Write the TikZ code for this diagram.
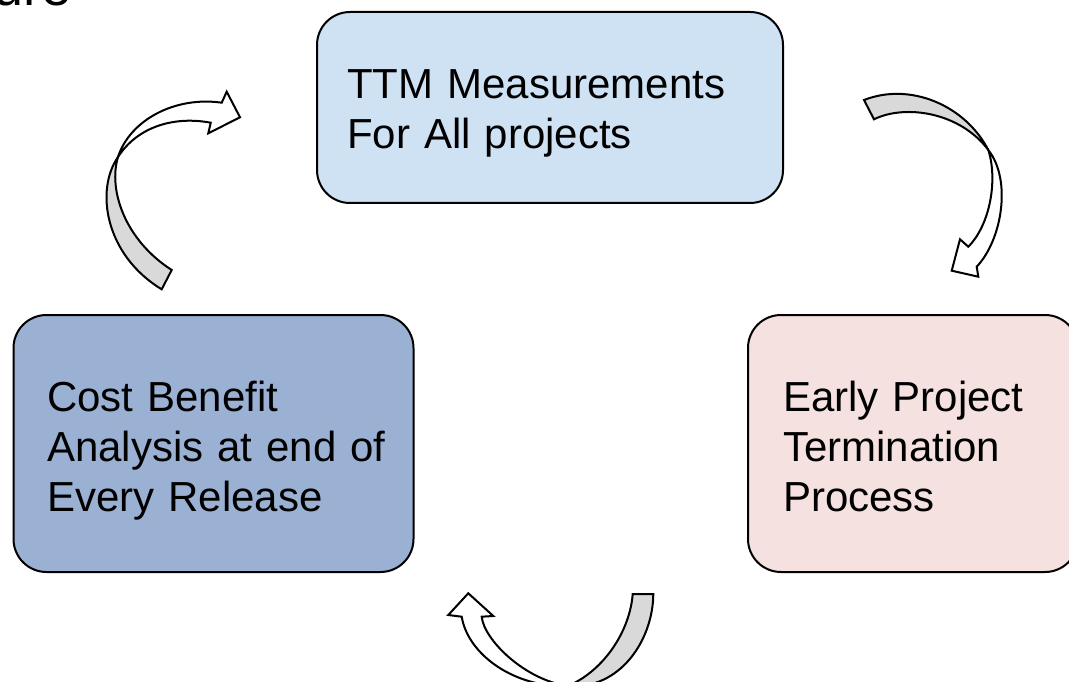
\documentclass[tikz,border=0pt]{standalone}
\usepackage{fontspec}
\setmainfont{Liberation Sans}
\definecolor{topblue}{HTML}{CFE2F3}
\definecolor{leftblue}{HTML}{9BB1D3}
\definecolor{rightpink}{HTML}{F4E1E0}
\definecolor{backgray}{HTML}{D9D9D9}
\tikzset{
  box/.style={draw=black, line width=2pt, rounded corners=33pt, inner sep=0pt},
  boxtext/.style={anchor=base west, inner sep=0pt, align=left, text width=400pt,
    font=\fontsize{42}{50}\selectfont},
  arrowback/.style={draw=black, line width=2pt, fill=backgray, line join=miter},
  arrowfront/.style={draw=black, line width=2pt, fill=white, line join=miter}
}
\begin{document}
\begin{tikzpicture}[x=1pt, y=-1pt]
\useasboundingbox (0,0) rectangle (1069,682);
\clip (0,0) rectangle (1069,682);

% title fragment
\node[anchor=base west, inner sep=0pt, font=\fontsize{54}{60}\selectfont] (titlefrag) at (-6.5,6) {ure};

% boxes
\node[box, fill=topblue, minimum width=466pt, minimum height=191pt] (ttm) at (550,107.5) {};
\node[boxtext] (ttmtext) at (347,99) {TTM Measurements\\For All projects};

\node[box, fill=leftblue, minimum width=400pt, minimum height=257pt] (cba) at (213.5,443.5) {};
\node[boxtext] (cbatext) at (47,411) {Cost Benefit\\Analysis at end of\\Every Release};

\node[box, fill=rightpink, minimum width=330pt, minimum height=257pt] (ept) at (913,443.5) {};
\node[boxtext] (epttext) at (783,411) {Early Project\\Termination\\Process};

% left curved arrow (Cost Benefit -> TTM)
\coordinate (lc) at (118,157);
\draw[arrowback] (161.7,289.3) .. controls (105,255) and (95,190) .. (lc)
  .. controls (108,190) and (125,240) .. (171.7,270) -- cycle;
\draw[arrowfront] (lc) .. controls (130,120) and (175,96) .. (221.7,102.7)
  -- (226.7,91.7) -- (240,117.3) -- (208.3,133.3) -- (210.7,122.7)
  .. controls (175,116) and (138,126) .. (lc) -- cycle;

% right curved arrow (TTM -> Early Project)
\coordinate (rc) at (988.3,150);
\draw[arrowback] (864,100) .. controls (910,82) and (965,105) .. (rc)
  .. controls (960,112) and (905,104) .. (874,119.3) -- cycle;
\draw[arrowfront] (rc) .. controls (1012,180) and (1002,240) .. (976.7,266.7)
  -- (978.3,276.7) -- (951.7,270.7) -- (960,239.3) -- (968.3,246.7)
  .. controls (990,225) and (998,180) .. (rc) -- cycle;

% bottom curved arrow (Early Project -> Cost Benefit)
\coordinate (bc) at (568,686);
\draw[arrowback] (632.7,594) .. controls (630,630) and (605,670) .. (bc)
  .. controls (620,690) and (653,640) .. (653.3,594) -- cycle;
\draw[arrowfront] (bc) .. controls (515,688) and (468,655) .. (461.7,616.7)
  -- (448.3,615) -- (468.3,593.3) -- (493.3,616) -- (481.7,616.7)
  .. controls (484,640) and (525,680) .. (bc) -- cycle;
\end{tikzpicture}
\end{document}
